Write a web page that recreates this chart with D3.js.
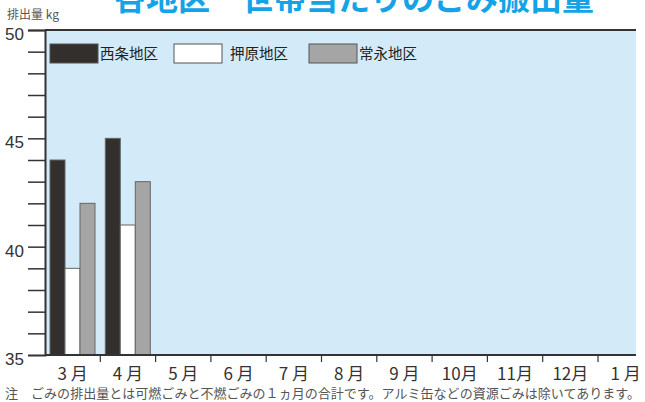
<!DOCTYPE html>
<html>
<head>
<meta charset="utf-8">
<script src="https://cdn.jsdelivr.net/npm/d3@7"></script>
<style>
  body { margin: 0; background: #fff; }
  svg { display: block; }
  text { font-family: "Noto Sans CJK JP", sans-serif; }
</style>
</head>
<body>
<div class="canvas"></div>
<script>
// data
const months = ['3 月', '4 月', '5 月', '6 月', '7 月', '8 月', '9 月', '10月', '11月', '12月', '1 月'];
const districts = ['西条地区', '押原地区', '常永地区'];
const saijo = [44, 45];
const oshihara = [39, 41];
const tokonaga = [42, 43];
const yTicks = [35, 40, 45, 50];

const series = [saijo, oshihara, tokonaga];
const colors = ['#332f2c', '#ffffff', '#a5a5a5'];

const width = 645;
const height = 402;
const margins = { top: 30, left: 45, bottom: 47 };
const plotRight = 636;
const bandW = 55.3;

const svg = d3
  .select('.canvas')
  .append('svg')
  .attr('width', width)
  .attr('height', height);

// scales
const x = d3
  .scaleBand()
  .domain(months)
  .range([margins.left, margins.left + bandW * months.length]);
const y = d3.scaleLinear().domain([35, 50]).range([height - margins.bottom, margins.top]);
const xSub = d3.scaleBand().domain(d3.range(3)).range([5, 50]);

// title (cut off at top, as in the original)
svg
  .append('text')
  .attr('x', 354)
  .attr('y', 10)
  .attr('text-anchor', 'middle')
  .attr('font-size', 32)
  .attr('font-weight', 'bold')
  .attr('fill', '#14a3e6')
  .text('各地区一世帯当たりのごみ搬出量');

// unit label
svg
  .append('text')
  .attr('x', 7)
  .attr('y', 19)
  .attr('font-size', 12)
  .attr('fill', '#555')
  .text('排出量 kg');

// plot background
svg
  .append('rect')
  .attr('x', margins.left)
  .attr('y', y(50))
  .attr('width', plotRight - margins.left)
  .attr('height', y(35) - y(50))
  .attr('fill', '#d3ebf8');

// bars
const groups = svg
  .append('g')
  .selectAll('g')
  .data(series)
  .join('g')
  .attr('fill', (d, i) => colors[i]);

groups
  .selectAll('rect')
  .data((d, i) => d.map((v, j) => ({ v, month: months[j], s: i })))
  .join('rect')
  .attr('x', d => x(d.month) + xSub(d.s))
  .attr('y', d => y(d.v))
  .attr('width', xSub.bandwidth())
  .attr('height', d => y(35) - y(d.v))
  .attr('stroke', '#666')
  .attr('stroke-width', 1);

// top border
svg
  .append('line')
  .attr('x1', margins.left)
  .attr('x2', plotRight)
  .attr('y1', y(50))
  .attr('y2', y(50))
  .attr('stroke', '#333')
  .attr('stroke-width', 2);

// y axis
const yAxisGroup = svg.append('g').attr('transform', `translate(${margins.left}, 0)`);
yAxisGroup.call(
  d3.axisLeft(y)
    .tickValues(d3.range(35, 51))
    .tickSize(17)
    .tickFormat(d => (yTicks.includes(d) ? d : ''))
);
yAxisGroup.select('.domain').attr('stroke', '#333').attr('stroke-width', 2);
yAxisGroup.selectAll('.tick line').attr('stroke', '#333').attr('stroke-width', 1.5);
yAxisGroup.selectAll('.tick').filter(d => d === 35).select('line').remove();
yAxisGroup
  .selectAll('.tick text')
  .attr('x', -21)
  .attr('dy', '0.55em')
  .attr('font-size', 17)
  .attr('fill', '#333')
  .style('font-family', '"Liberation Sans Narrow", "Liberation Sans", sans-serif');

// x axis
const xAxisGroup = svg.append('g').attr('transform', `translate(0, ${y(35)})`);
xAxisGroup
  .append('line')
  .attr('x1', margins.left)
  .attr('x2', plotRight)
  .attr('stroke', '#333')
  .attr('stroke-width', 2);
xAxisGroup
  .selectAll('.sep')
  .data(months.slice(1))
  .join('line')
  .attr('class', 'sep')
  .attr('x1', d => x(d))
  .attr('x2', d => x(d))
  .attr('y1', 0)
  .attr('y2', 7)
  .attr('stroke', '#333')
  .attr('stroke-width', 1.2);
xAxisGroup
  .selectAll('.mlabel')
  .data(months)
  .join('text')
  .attr('class', 'mlabel')
  .attr('x', d => x(d) + x.bandwidth() / 2)
  .attr('y', 25)
  .attr('text-anchor', 'middle')
  .attr('font-size', 17)
  .attr('fill', '#333')
  .text(d => d);

// legend
const legendX = [50, 174, 309];
const legend = svg
  .append('g')
  .selectAll('g')
  .data(districts)
  .join('g')
  .attr('transform', (d, i) => `translate(${legendX[i]}, 44)`);
legend
  .append('rect')
  .attr('width', 48)
  .attr('height', 19)
  .attr('fill', (d, i) => colors[i])
  .attr('stroke', '#555')
  .attr('stroke-width', 1);
legend
  .append('text')
  .attr('x', (d, i) => (i === 1 ? 56 : 50))
  .attr('y', 15)
  .attr('font-size', 14.5)
  .attr('fill', '#222')
  .text(d => d);

// footnote
svg
  .append('text')
  .attr('x', 5)
  .attr('y', 398)
  .attr('font-size', 13)
  .attr('fill', '#555')
  .attr('textLength', 635)
  .attr('lengthAdjust', 'spacingAndGlyphs')
  .text('注　ごみの排出量とは可燃ごみと不燃ごみの１ヵ月の合計です。アルミ缶などの資源ごみは除いてあります。');
</script>
</body>
</html>
